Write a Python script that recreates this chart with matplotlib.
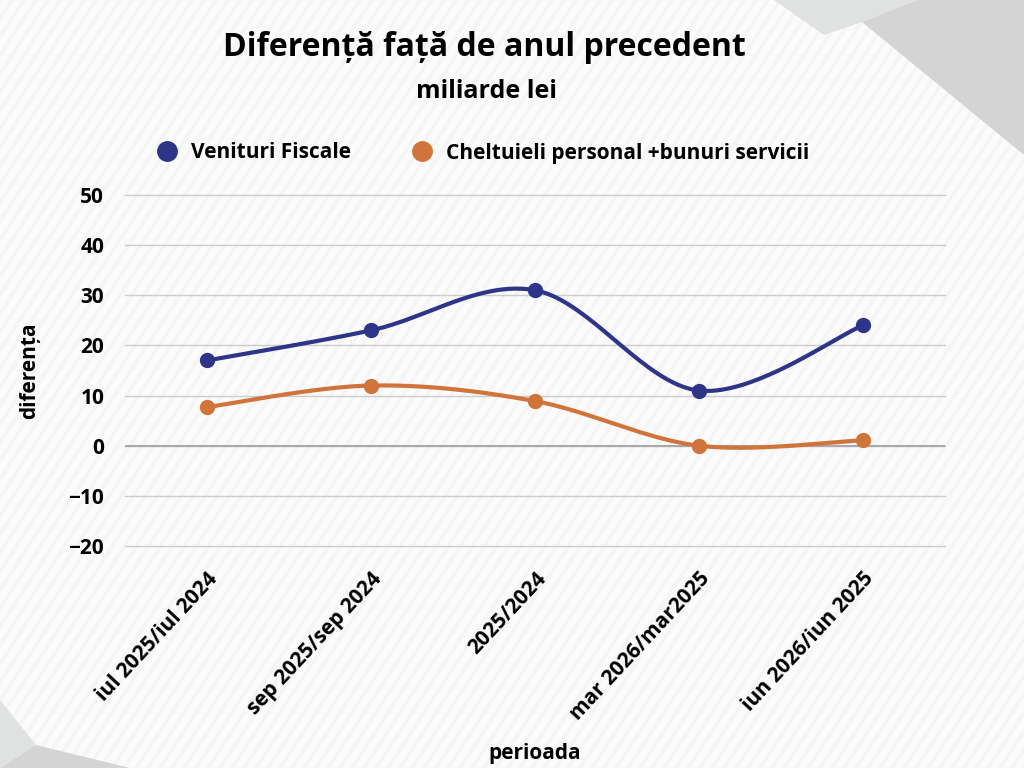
import numpy as np
import matplotlib.pyplot as plt
from matplotlib.patches import Polygon

# Date
perioade = ["iul 2025/iul 2024", "sep 2025/sep 2024", "2025/2024",
            "mar 2026/mar2025", "iun 2026/iun 2025"]
venituri_fiscale = [17, 23, 31, 11, 24]
cheltuieli = [7.7, 12, 8.9, 0, 1.1]

BLUE = "#2e3588"
ORANGE = "#d0743c"
FONT = ["Open Sans", "DejaVu Sans"]


def catmull_rom(xs, ys, n=40):
    # curba neteda prin punctele date (doar pentru desen)
    px = np.concatenate([[xs[0]], xs, [xs[-1]]]).astype(float)
    py = np.concatenate([[ys[0]], ys, [ys[-1]]]).astype(float)
    out_x, out_y = [], []
    t = np.linspace(0, 1, n)
    h00 = 2 * t**3 - 3 * t**2 + 1
    h10 = t**3 - 2 * t**2 + t
    h01 = -2 * t**3 + 3 * t**2
    h11 = t**3 - t**2
    for i in range(1, len(px) - 2):
        mx1 = (px[i + 1] - px[i - 1]) / 2
        mx2 = (px[i + 2] - px[i]) / 2
        my1 = (py[i + 1] - py[i - 1]) / 2
        my2 = (py[i + 2] - py[i]) / 2
        out_x.append(h00 * px[i] + h10 * mx1 + h01 * px[i + 1] + h11 * mx2)
        out_y.append(h00 * py[i] + h10 * my1 + h01 * py[i + 1] + h11 * my2)
    return np.concatenate(out_x), np.concatenate(out_y)


plt.rcParams["font.family"] = FONT
plt.rcParams["font.weight"] = "bold"
plt.rcParams["axes.labelweight"] = "bold"
fig = plt.figure(figsize=(10.24, 7.68), dpi=100)
fig.patch.set_facecolor("#fbfbfb")

# fundal: dungi diagonale si forme gri
bg = fig.add_axes([0, 0, 1, 1], zorder=-10)
bg.set_xlim(0, 1024)
bg.set_ylim(768, 0)
bg.axis("off")
for k in np.arange(-800, 1100, 12):
    bg.plot([k, k + 500], [768, 0], color="#f5f5f5", lw=2.5, zorder=0)
bg.add_patch(Polygon([(774, 0), (824, 35), (862, 22), (917, 0)],
                     closed=True, color="#e0e1e1", lw=0, zorder=1))
bg.add_patch(Polygon([(862, 22), (1024, 155), (1024, 0), (917, 0)],
                     closed=True, color="#d4d4d4", lw=0, zorder=1))
bg.add_patch(Polygon([(0, 700), (36, 745), (0, 768)],
                     closed=True, color="#e0e1e1", lw=0, zorder=1))
bg.add_patch(Polygon([(36, 745), (130, 768), (0, 768)],
                     closed=True, color="#d4d4d4", lw=0, zorder=1))

ax = fig.add_axes([125 / 1024, 1 - 546 / 768, 820 / 1024, 351 / 768])
ax.set_facecolor("none")
x = np.arange(len(perioade))

for vals, col, lab in [(venituri_fiscale, BLUE, "Venituri Fiscale"),
                       (cheltuieli, ORANGE, "Cheltuieli personal +bunuri servicii")]:
    sx, sy = catmull_rom(x, np.array(vals))
    ax.plot(sx, sy, color=col, lw=3, zorder=3, solid_capstyle="round")
    ax.plot(x, vals, "o", color=col, ms=10, zorder=4, label=lab)

ax.set_xlim(-0.5, len(perioade) - 0.5)
ax.set_ylim(-20, 50)
ax.set_yticks(np.arange(-20, 51, 10))
ax.yaxis.grid(True, color="#cccccc", lw=1)
for gl in ax.get_ygridlines():
    gl.set_clip_on(False)
ax.axhline(0, color="#aaaaaa", lw=1.5, zorder=1)
ax.set_axisbelow(True)
for s in ax.spines.values():
    s.set_visible(False)
ax.tick_params(axis="both", length=0, labelsize=15)
ax.tick_params(axis="y", pad=15)

ax.set_xticks(x)
ax.set_xticklabels(perioade, rotation=47, ha="right", rotation_mode="anchor",
                   fontsize=15)
ax.tick_params(axis="x", pad=16)

ax.set_ylabel("diferența", fontsize=15, fontweight="bold")
ax.yaxis.set_label_coords(-0.103, 0.5)
fig.text(535 / 1024, 1 - 753 / 768, "perioada", ha="center", va="center",
         fontsize=15)

fig.text(484 / 1024, 1 - 47 / 768, "Diferență față de anul precedent",
         ha="center", va="center", fontsize=23)
fig.text(486 / 1024, 1 - 92 / 768, "miliarde lei", ha="center", va="center",
         fontsize=18)

fig.legend(loc="center", bbox_to_anchor=(478 / 1024, 1 - 153 / 768), ncol=2,
           frameon=False, handletextpad=0.15, columnspacing=2.4,
           markerscale=1.4, prop={"weight": "bold", "size": 15, "family": FONT})

fig.savefig("out.png", dpi=100, facecolor=fig.get_facecolor())
